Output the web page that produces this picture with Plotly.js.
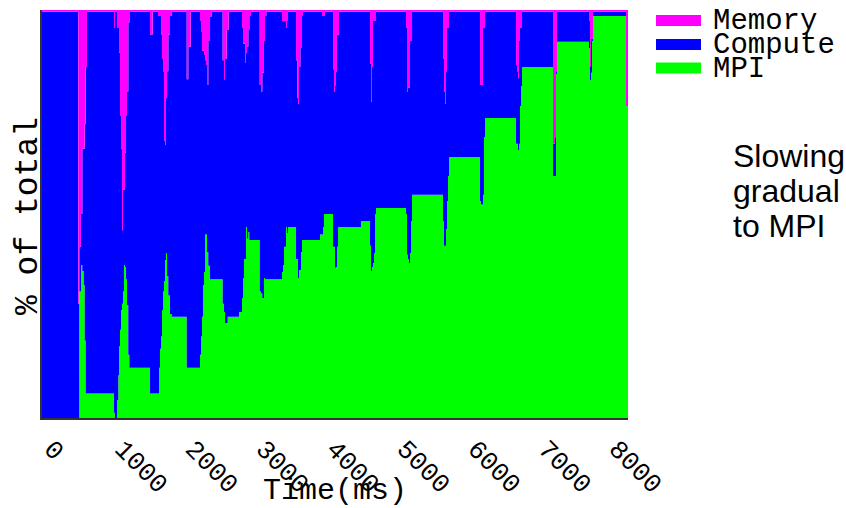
<!DOCTYPE html>
<html>
<head>
<meta charset="utf-8">
<script src="https://cdn.plot.ly/plotly-3.0.1.min.js"></script>
<style>
html,body{margin:0;padding:0;background:#fff;}
#chart{width:846px;height:508px;}
</style>
</head>
<body>
<div id="chart"></div>
<script>
// Time in ms at the start of each step
const timeMs = [0,514,528,552,571,591,605,619,637,1020,1034,1062,1081,1091,1105,1119,1133,1147,1161,1176,1190,1204,1222,1237,1246,1530,1568,1643,1657,1671,1686,1700,1714,1728,1742,1756,1771,1789,1813,1837,2050,2072,2106,2238,2252,2266,2280,2295,2309,2323,2337,2355,2380,2404,2559,2578,2592,2616,2630,2644,2790,2833,2847,2861,2875,2889,2904,2922,2936,2960,3084,3102,3120,3144,3159,3177,3399,3414,3428,3456,3470,3484,3598,3616,3626,3640,3659,3668,3683,3697,3938,3966,3980,3994,4008,4122,4136,4150,4164,4178,4193,4207,4518,4646,4660,4674,4688,4702,4717,4731,5156,5170,5184,5198,5212,5227,5241,5680,5694,5708,5722,5736,5751,5765,6204,6218,6246,6260,6275,6714,6728,6742,6756,6770,6785,6799,7238,7266,7280,7294,7748,7762,7776,7790,7804,8272,8300];
// % of total spent in MPI (bottom layer)
const mpiPct = [0,0,31,37.5,36,32.6,19,6,6,1.3,0,4.4,10.5,17.6,21.6,26.5,28,31,37.5,37,34,27.7,15.5,12.3,12.3,6,6,6,12.3,17,20,26.5,31,33.6,38.7,40.4,34.8,30,25.5,24.8,12.3,12.3,12.3,15.5,20,24.8,32.6,35.8,45,45,40.7,37.3,34,34,28,26,23.3,23.3,24.8,24.8,26,29.4,34.3,39,39,46.8,44,45.6,43.6,43.6,31,30.5,29.4,34.3,34,34,35.8,37.5,42,46.8,45.3,46.8,39,39,34.3,36.3,36.3,40.7,43.6,43.6,45,45,46.8,50,50,42,42,36.8,37,42,46.8,46.8,48.3,42.2,36,37,38,40.4,50,51.5,50,40,39,38,40.4,48.3,54.7,48.3,42.2,42.2,46.3,53.2,59.3,64,53.2,52.3,54.7,68.9,73.5,67.2,67.2,65.7,67.2,76.5,81.4,86,59.3,59.3,84.3,92.2,90.7,82.8,84.6,92.4,98.5,76.5,76.5];
// % of total spent in Compute (middle layer)
const computePct = [99.6,28,11,12.5,30,33.4,53,80,93.6,94.3,99.6,91.2,85.1,71.9,52.4,39.5,18,25,18.5,28,40,52.3,81.5,84.7,87.3,88,93.6,92.5,86.2,81.5,74,61.5,54,34.4,28.3,38.1,50.2,64,73,74.8,70.7,78.7,87.3,81.8,74.6,65.2,57.4,53.2,42.7,41.5,40.9,55.1,64.4,65.6,59.7,57,64.7,71.8,70.3,74.8,73.6,66.2,57.4,52.7,48,42.7,47,49.5,54.9,56,50.6,49.5,55.2,58.1,64.5,65.6,61.5,59.8,55.3,48.8,52,52.8,48.7,39.5,42.7,49.7,54.4,50,54.9,56,54.6,53.5,51.7,48.5,49.6,43.5,38,44.6,47.8,52,47.2,52.8,51.3,44.6,41.5,49,59.3,56.9,47.3,48.1,45.6,40,42,43,52,44.1,44.9,39.7,37.8,34.8,38.7,42.4,36.3,35.6,28.4,29.3,40.9,26.7,26.1,19.3,17.8,17.6,25.2,19.1,14.2,13.6,7.9,9.3,0.7,7.4,6.6,3.2,8.4,0.6,1.1,0,0];
// % of total spent in Memory (top layer)
const memoryPct = [0.4,72,58,50,34,34,28,14,0.4,4.4,0.4,4.4,4.4,10.5,26,34,54,44,44,35,26,20,3,3,0.4,6,0.4,1.5,1.5,1.5,6,12,15,32,33,21.5,15,6,1.5,0.4,17,9,0.4,2.7,5.4,10,10,11,12.3,13.5,18.4,7.6,1.6,0.4,12.3,17,12,4.9,4.9,0.4,0.4,4.4,8.3,8.3,13,10.5,9,4.9,1.5,0.4,18.4,20,15.4,7.6,1.5,0.4,2.7,2.7,2.7,4.4,2.7,0.4,12.3,21.5,23,14,9.3,9.3,1.5,0.4,0.4,1.5,1.5,1.5,0.4,14.5,20,18.6,15.2,6,6,0.4,0.4,13.2,22.5,14,2.7,2.7,2.7,0.4,4.4,20,19,19,7.6,7.6,0.4,12,20,23,15,4.4,4.4,0.4,18.4,18.4,4.4,4.4,0.4,13.5,15,16.7,7.6,4.4,4.4,0.4,32.8,31.4,15,0.4,2.7,14,7,7,0.4,23.5,23.5];

const seriesNames = ['MPI','Compute','Memory'];
const seriesColors = ['#00ff00','#0000ff','#ff00ff'];
const tickValues = [0,1000,2000,3000,4000,5000,6000,7000,8000];
const tickLabels = ['0','1000','2000','3000','4000','5000','6000','7000','8000'];
const noteLines = ['Slowing','gradual','to MPI'];
const xTitle = 'Time(ms)';
const yTitle = '% of total';

const seriesData = [mpiPct, computePct, memoryPct];
const traces = seriesData.map((vals, i) => ({
  type: 'scatter', mode: 'lines', x: timeMs, y: vals,
  name: seriesNames[i], stackgroup: 'one',
  line: {shape: 'hv', width: 0, color: seriesColors[i]},
  fillcolor: seriesColors[i], hoverinfo: 'skip'
}));

const mono = 'Liberation Mono, Courier New, monospace';
const sans = 'Liberation Sans, Arial, sans-serif';

const plotL = 42, plotR = 628, plotT = 10, plotB = 418;
const pw = plotR - plotL, ph = plotB - plotT;
const px2x = p => (p - plotL) / pw;
const py2y = p => (plotB - p) / ph;

// manual legend (top = Memory)
const legendOrder = [2, 1, 0];
const legendRowY = [20.5, 44.5, 68];
const shapes = [];
const annotations = [];
legendOrder.forEach((si, r) => {
  shapes.push({type: 'rect', xref: 'paper', yref: 'paper',
    x0: px2x(656), x1: px2x(701), y0: py2y(legendRowY[r] + 5.5), y1: py2y(legendRowY[r] - 5.5),
    fillcolor: seriesColors[si], line: {width: 0}});
  annotations.push({xref: 'paper', yref: 'paper', x: px2x(711), y: py2y(legendRowY[r] + 1),
    xanchor: 'left', yanchor: 'middle', showarrow: false, text: seriesNames[si],
    font: {family: mono, size: 29, color: '#000'}});
});
const noteY = [156, 191, 226];
noteLines.forEach((t, i) => {
  annotations.push({xref: 'paper', yref: 'paper', x: px2x(731), y: py2y(noteY[i]),
    xanchor: 'left', yanchor: 'middle', showarrow: false, text: t,
    font: {family: sans, size: 32, color: '#000'}});
});
// axis titles placed as in the reference
annotations.push({xref: 'paper', yref: 'paper', x: 0.5, y: py2y(491),
  xanchor: 'center', yanchor: 'middle', showarrow: false, text: xTitle,
  font: {family: mono, size: 30, color: '#000'}});
annotations.push({xref: 'paper', yref: 'paper', x: px2x(28), y: py2y(216),
  xanchor: 'center', yanchor: 'middle', showarrow: false, text: yTitle, textangle: -90,
  font: {family: mono, size: 33, color: '#000'}});

const layout = {
  width: 846, height: 508,
  margin: {l: plotL, r: 846 - plotR, t: plotT, b: 508 - plotB, pad: 0},
  paper_bgcolor: '#ffffff', plot_bgcolor: '#ffffff',
  showlegend: false,
  xaxis: {
    range: [0, 8300], tickmode: 'array', tickvals: tickValues, ticktext: tickLabels,
    tickangle: 45, ticks: '', showgrid: false, zeroline: false,
    showline: true, linecolor: '#333333', linewidth: 2,
    ticklabelshift: 10, ticklabelstandoff: 3,
    tickfont: {family: mono, size: 26, color: '#000'}
  },
  yaxis: {
    range: [0, 100], showticklabels: false, ticks: '', showgrid: false, zeroline: false,
    showline: true, linecolor: '#333333', linewidth: 2
  },
  shapes: shapes,
  annotations: annotations
};

Plotly.newPlot('chart', traces, layout, {staticPlot: true, displayModeBar: false});
</script>
</body>
</html>
